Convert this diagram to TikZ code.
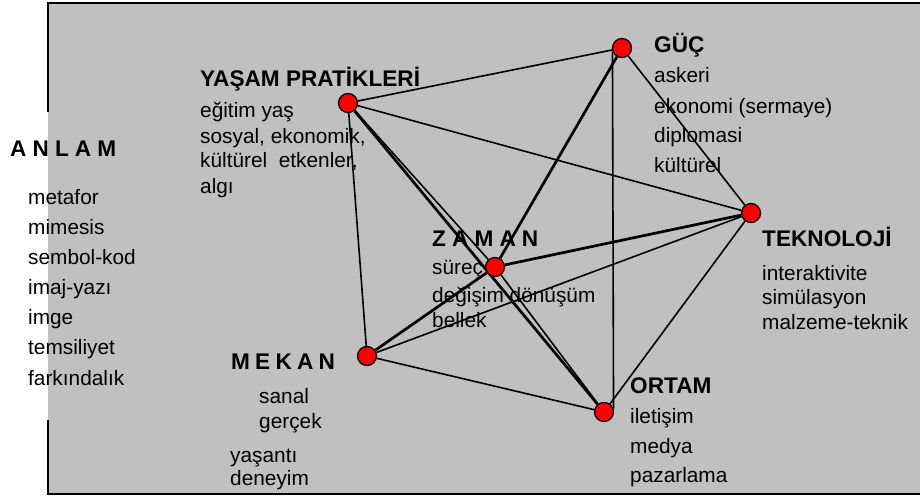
\documentclass[tikz,border=0pt]{standalone}
\usepackage{fontspec}
\setmainfont{Liberation Sans}
\usetikzlibrary{backgrounds}
\definecolor{panel}{RGB}{192,192,192}
\begin{document}
\begin{tikzpicture}[x=1bp,y=-1bp,
  hub/.style={circle,fill=red,draw=black,line width=1.3bp,minimum size=19bp,inner sep=0},
  txt/.style={anchor=base west,inner sep=0,font=\fontsize{20.9}{24}\selectfont},
  ttl/.style={anchor=base west,inner sep=0,font=\bfseries\fontsize{22.7}{26}\selectfont},
  thin link/.style={line width=1.6bp},
  bold link/.style={line width=2.7bp}]
\useasboundingbox (0,0) rectangle (920,502);

% hubs
\node[hub] (yasam) at (348,103) {};
\node[hub] (guc)   at (622,48)  {};
\node[hub] (tek)   at (751,213) {};
\node[hub] (zaman) at (495,267) {};
\node[hub] (mekan) at (367,356) {};
\node[hub] (ortam) at (604,412) {};

\begin{scope}[on background layer]
  % grey panel with its open-left frame
  \fill[panel] (48,3) rectangle (920,494);
  \draw[line width=2.6bp] (48,112) -- (48,3) -- (920,3);
  \draw[line width=2.6bp] (48,420) -- (48,494) -- (920,494);
  % links
  \draw[thin link] (yasam) -- (guc);
  \draw[thin link] (yasam) -- (tek);
  \draw[thin link] (yasam) -- (mekan);
  \draw[bold link] (yasam) -- (ortam);
  \draw[thin link] (yasam) -- (zaman);
  \draw[thin link] (zaman) -- (ortam);
  \draw[bold link] (guc) -- (zaman);
  \draw[thin link] (guc.200) -- (ortam.20);
  \draw[thin link] (guc) -- (tek);
  \draw[bold link] (tek) -- (zaman);
  \draw[thin link] (tek) -- (mekan);
  \draw[thin link] (tek) -- (ortam);
  \draw[bold link] (mekan) -- (zaman);
  \draw[thin link] (mekan) -- (ortam);
\end{scope}

% ANLAM
\node[ttl] (anlamT) at (10,157) {\spaceskip=0.27em\relax A N L A M};
\node[txt] (anlam1) at (28,205) {metafor};
\node[txt] (anlam2) at (28,235) {mimesis};
\node[txt] (anlam3) at (28,265) {sembol-kod};
\node[txt] (anlam4) at (28,295) {imaj-yazı};
\node[txt] (anlam5) at (28,325) {imge};
\node[txt] (anlam6) at (28,355) {temsiliyet};
\node[txt] (anlam7) at (28,385) {farkındalık};

% YAŞAM PRATİKLERİ
\node[ttl] (yasamT) at (200,87) {YAŞAM PRATİKLERİ};
\node[txt] (yasam1) at (200,118) {eğitim yaş};
\node[txt] (yasam2) at (200,144) {sosyal, ekonomik,};
\node[txt] (yasam3) at (200,168) {kültürel\ \ etkenler,};
\node[txt] (yasam4) at (200,194) {algı};

% GÜÇ
\node[ttl] (gucT) at (654,53) {GÜÇ};
\node[txt] (guc1) at (654,83)  {askeri};
\node[txt] (guc2) at (654,114) {ekonomi (sermaye)};
\node[txt] (guc3) at (654,143) {diplomasi};
\node[txt] (guc4) at (654,173) {kültürel};

% TEKNOLOJİ
\node[ttl] (tekT) at (762,247) {TEKNOLOJİ};
\node[txt] (tek1) at (762,281) {interaktivite};
\node[txt] (tek2) at (762,305) {simülasyon};
\node[txt] (tek3) at (762,330) {malzeme-teknik};

% ZAMAN
\node[ttl] (zamanT) at (432,247) {\spaceskip=0.27em\relax Z A M A N};
\node[txt] (zaman1) at (432,275) {süreç};
\node[txt] (zaman2) at (432,303) {değişim dönüşüm};
\node[txt] (zaman3) at (432,328) {bellek};

% MEKAN
\node[ttl] (mekanT) at (231,369) {\spaceskip=0.23em\relax M E K A N};
\node[txt] (mekan1) at (259,403) {sanal};
\node[txt] (mekan2) at (259,428) {gerçek};
\node[txt] (mekan3) at (230,462) {yaşantı};
\node[txt] (mekan4) at (230,485) {deneyim};

% ORTAM
\node[ttl] (ortamT) at (630,393) {ORTAM};
\node[txt] (ortam1) at (630,423) {iletişim};
\node[txt] (ortam2) at (630,453) {medya};
\node[txt] (ortam3) at (630,482) {pazarlama};
\end{tikzpicture}
\end{document}
